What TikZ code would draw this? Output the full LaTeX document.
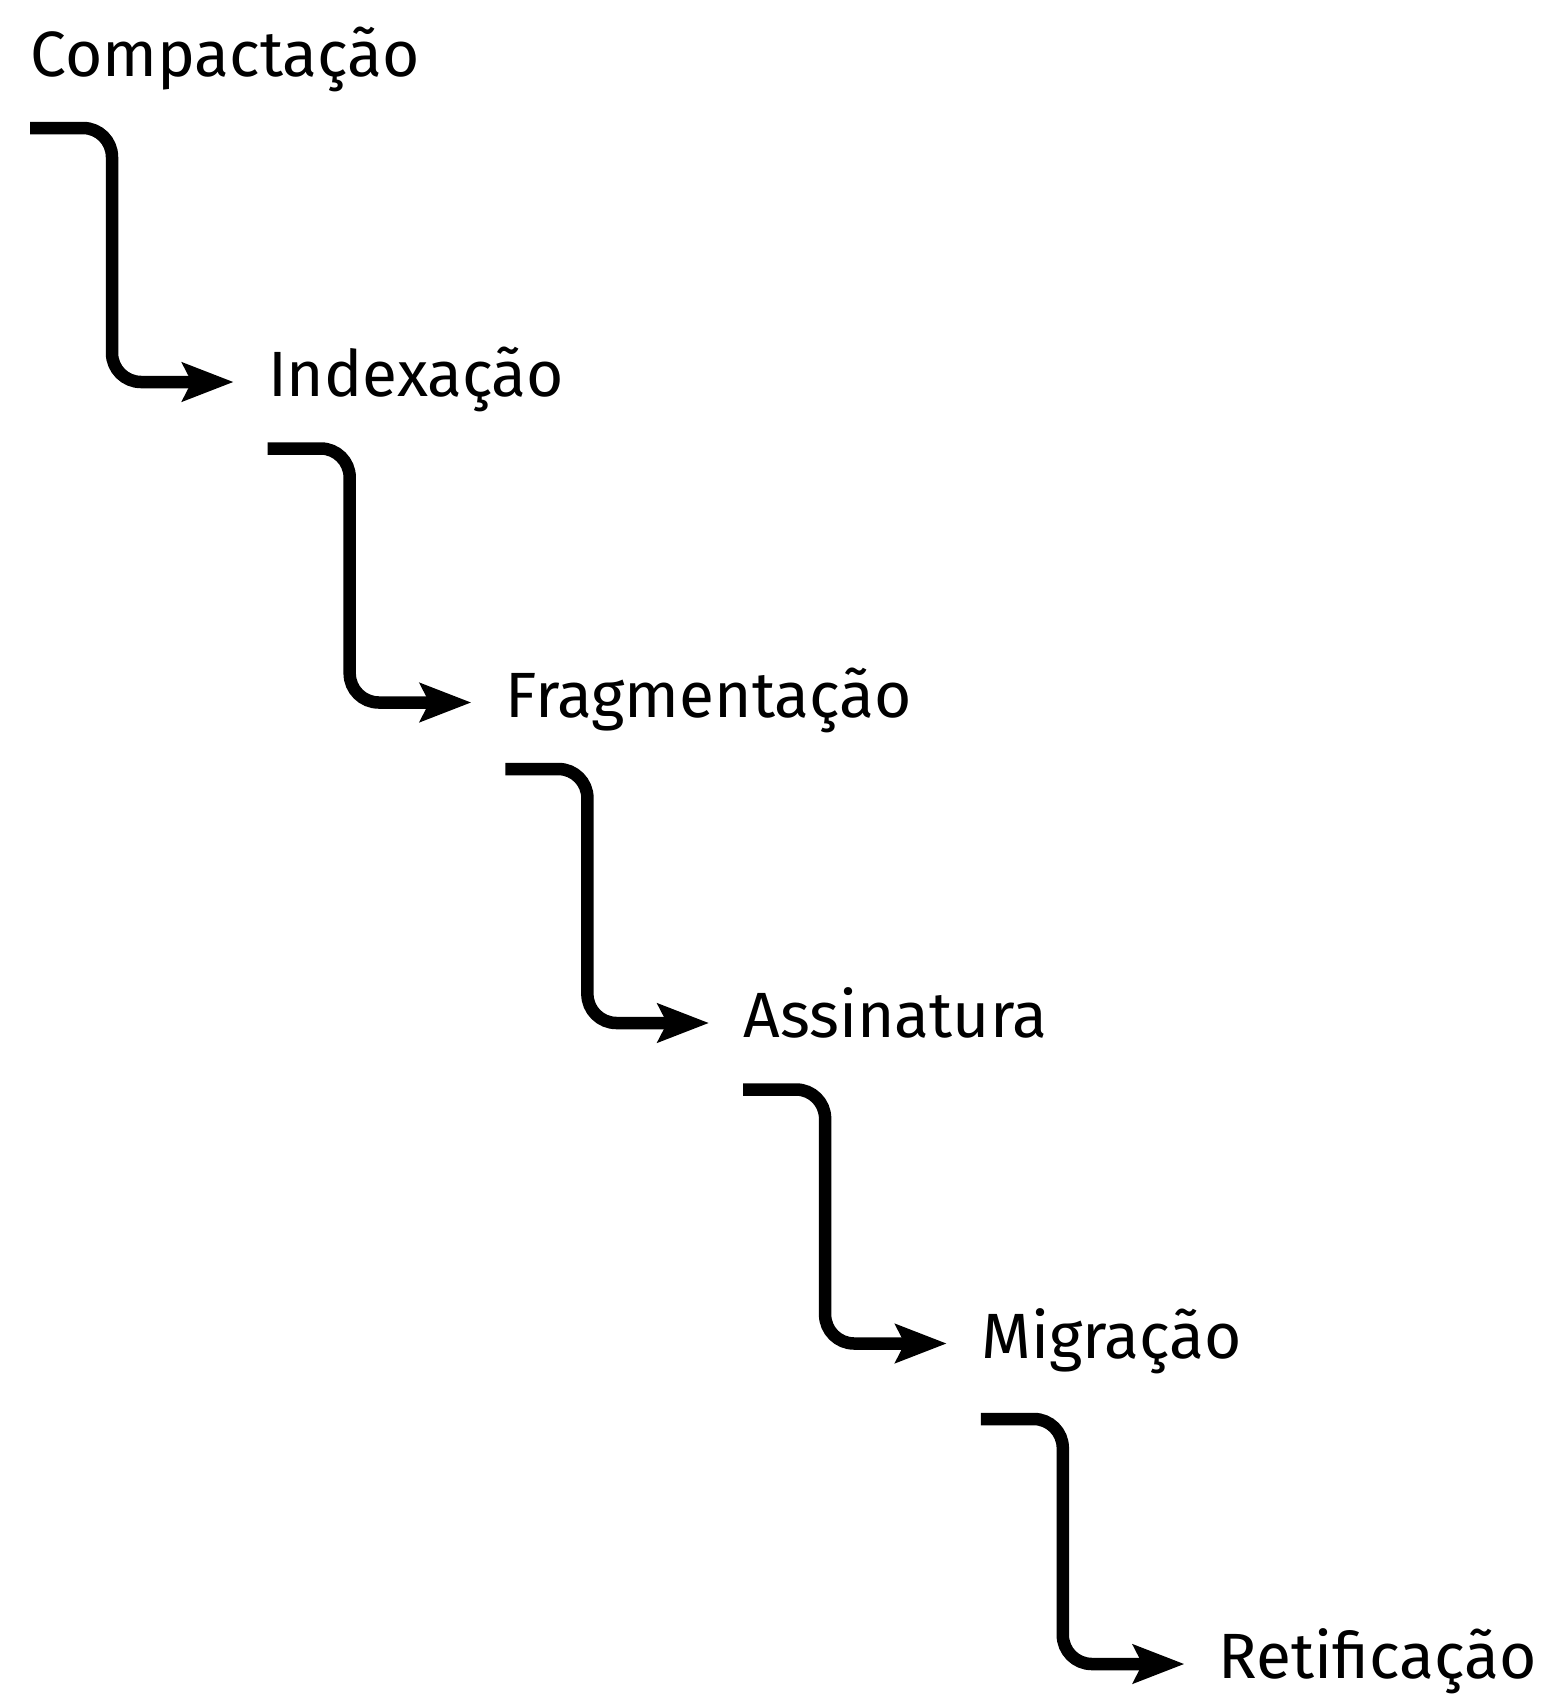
\documentclass[tikz,border=0pt]{standalone}
\usepackage{fontspec}
\setmainfont{Fira Sans}
\usetikzlibrary{arrows.meta,calc}
\begin{document}
\begin{tikzpicture}[x=0.5pt,y=-0.5pt,
  lbl/.style={anchor=base west,inner sep=0pt,font=\fontsize{32pt}{38pt}\selectfont},
  flow/.style={line width=6.25pt,rounded corners=14.5pt,
    -{Stealth[length=25.5pt,width=19pt,inset=4.5pt]}}]
\useasboundingbox (0,0) rectangle (1547,1697);
\node[lbl] (a) at (30,76) {Compactação};
\node[lbl] (b) at (267.7,396.5) {Indexação};
\node[lbl] (c) at (505.4,717) {Fragmentação};
\node[lbl] (d) at (743.1,1037.5) {Assinatura};
\node[lbl] (e) at (980.8,1358) {Migração};
\node[lbl] (f) at (1218.5,1678.5) {Retificação};
\foreach \s/\t/\g in {a/b/52,b/c/52,c/d/52,d/e/52,e/f/61}{
  \draw[flow] ($(\s.base west)+(0,\g)$) -| ($(\s.base west)+(82,200)$) |- ($(\t.base west)+(-34,-14.5)$);
}
\end{tikzpicture}
\end{document}
